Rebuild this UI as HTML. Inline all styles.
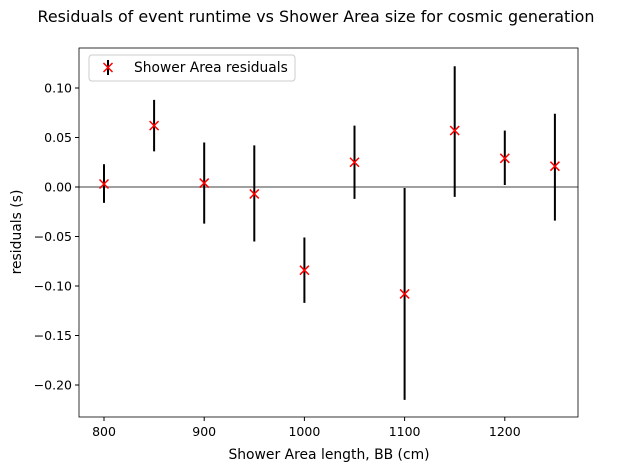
<!DOCTYPE html>
<html><head><meta charset="utf-8"><style>
body{margin:0;background:#fff;font-family:"Liberation Sans","DejaVu Sans",sans-serif;}
</style></head><body>
<svg width="632" height="471" xmlns="http://www.w3.org/2000/svg" font-family="DejaVu Sans, Liberation Sans, sans-serif">
<g id="plot"></g>
</svg>
<script>
const xs=[800,850,900,950,1000,1050,1100,1150,1200,1250];
const ys=[0.003,0.062,0.004,-0.007,-0.084,0.025,-0.108,0.057,0.029,0.021];
const lo=[-0.016,0.036,-0.037,-0.055,-0.117,-0.012,-0.215,-0.010,0.002,-0.034];
const hi=[0.023,0.088,0.045,0.042,-0.051,0.062,-0.001,0.122,0.057,0.074];
const xTicks=[800,900,1000,1100,1200];
const yTicks=[0.10,0.05,0.00,-0.05,-0.10,-0.15,-0.20];
const L=79,R=578,T=48,B=417;
const X=v=>104+(v-800)*1.002;
const Y=v=>187-v*990;
const NS="http://www.w3.org/2000/svg";
const g=document.getElementById('plot');
function mk(t,a,txt){const e=document.createElementNS(NS,t);for(const k in a)e.setAttribute(k,a[k]);if(txt!==undefined)e.textContent=txt;g.appendChild(e);return e;}
let e;
e=mk('text',{x:316,y:22,'text-anchor':'middle','font-size':15.9},'Residuals of event runtime vs Shower Area size for cosmic generation');

e=mk('line',{x1:L,x2:R,y1:Y(0),y2:Y(0),stroke:'#808080','stroke-width':1.5});

xs.forEach((x,i)=>{
 e=mk('line',{x1:X(x),x2:X(x),y1:Y(lo[i]),y2:Y(hi[i]),stroke:'#000','stroke-width':2});
 
 const cx=X(x),cy=Y(ys[i]),s=4.5;
 e=mk('path',{d:`M${cx-s},${cy-s}L${cx+s},${cy+s}M${cx-s},${cy+s}L${cx+s},${cy-s}`,stroke:'#ff0000','stroke-width':1.5});
 
});
e=mk('rect',{x:L,y:T,width:R-L,height:B-T,fill:'none',stroke:'#000','stroke-width':0.8});

xTicks.forEach(t=>{
 e=mk('line',{x1:X(t),x2:X(t),y1:B,y2:B+4,stroke:'#000'});
 
 e=mk('text',{x:X(t),y:B+19,'text-anchor':'middle','font-size':12.5},String(t));
 
});
yTicks.forEach(t=>{
 e=mk('line',{x1:L-4,x2:L,y1:Y(t),y2:Y(t),stroke:'#000'});
 
 e=mk('text',{x:L-7,y:Y(t)+4.5,'text-anchor':'end','font-size':12.5},t.toFixed(2).replace('-','\u2212'));
 
});
e=mk('text',{x:329,y:459,'text-anchor':'middle','font-size':13.9},'Shower Area length, BB (cm)');

e=mk('text',{x:21,y:232,'text-anchor':'middle','font-size':13.9,transform:'rotate(-90 21 232)'},'residuals (s)');

e=mk('rect',{x:89,y:55,width:206,height:26,rx:3,fill:'#fff',stroke:'#ccc'});

e=mk('line',{x1:108,x2:108,y1:60,y2:75,stroke:'#000','stroke-width':2});

e=mk('path',{d:'M103.5,63L112.5,72M103.5,72L112.5,63',stroke:'#ff0000','stroke-width':1.5});

e=mk('text',{x:134,y:72,'font-size':13.8},'Shower Area residuals');

</script>
</body></html>
